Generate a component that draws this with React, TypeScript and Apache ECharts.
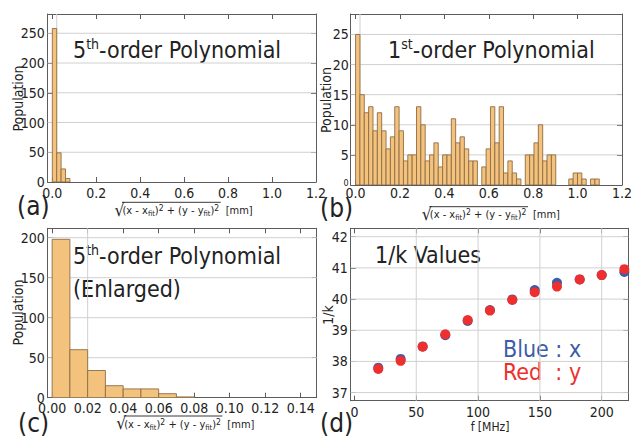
import React, { useEffect, useRef } from 'react';
import * as echarts from 'echarts';

// ---------- data ----------
const countsA = [258, 49, 22, 6];
const binA = 0.02;
const countsB = [25, 15, 12, 13, 9, 12, 9, 6, 8, 13, 9, 4, 5, 5, 13, 10, 4, 5, 7, 3, 5, 5, 11, 7, 8, 6, 4, 4, 0, 3, 6, 13, 7, 13, 2, 4, 2, 1, 0, 5, 5, 7, 10, 4, 5, 5, 0, 0, 0, 1, 2, 2, 1, 0, 1, 1];
const binB = 0.0196;
const countsC = [198, 60, 34, 15, 11, 11, 5, 1];
const binC = 0.01;
const freqs = [19.3, 37.4, 55.2, 73.5, 91.6, 109.6, 127.7, 145.8, 163.8, 182.2, 200.0, 218.3];
const blueX = [37.80, 38.08, 38.48, 38.84, 39.30, 39.65, 39.99, 40.29, 40.52, 40.63, 40.77, 40.87];
const redY = [37.76, 38.02, 38.47, 38.87, 39.33, 39.63, 39.97, 40.22, 40.40, 40.63, 40.77, 40.96];

const ticksHistX = [0, 0.2, 0.4, 0.6, 0.8, 1.0, 1.2];
const ticksAY = [0, 50, 100, 150, 200, 250];
const ticksBY = [0, 5, 10, 15, 20, 25];
const ticksCX = [0, 0.02, 0.04, 0.06, 0.08, 0.1, 0.12, 0.14];
const ticksCY = [0, 50, 100, 150, 200];
const ticksDX = [0, 50, 100, 150, 200];
const ticksDY = [37, 38, 39, 40, 41, 42];

const gridAX = [0.02];
const gridAY = [50, 100, 150, 200, 250];
const gridBX = [0.02];
const gridBY = [5, 10, 15, 20, 25];
const gridCX = [0.02];
const gridCY = [50, 100, 150, 200];
const gridDX = [50, 100, 150, 200];
const gridDY = [37, 38, 39, 40, 41, 42];

// ---------- style ----------
const FONT = 'Tahoma, "DejaVu Sans Condensed", "Liberation Sans", sans-serif';
const FRAME = '#5c5c5c';
const GRIDC = '#d0d0d0';
const TXT = '#222';
const BAR_FILL = '#f3c37e';
const BAR_EDGE = '#8f6c44';
const BLUE = '#3b5ca9';
const RED = '#ee2f2f';

const ranges = [
  { x: [-0.021, 1.2], y: [0, 282.4] },
  { x: [-0.022, 1.2], y: [0, 28.4] },
  { x: [-0.0025, 0.149], y: [0, 211.75] },
  { x: [-3, 221.5], y: [36.74, 42.27] },
];

function axisPair(dir: 'x' | 'y', gi: number, ticks: number[], fmt: any, margin: number, rich?: any) {
  const r = ranges[gi][dir];
  const common = {
    type: 'value',
    gridIndex: gi,
    min: r[0],
    max: r[1],
    axisLine: { show: true, onZero: false, lineStyle: { color: FRAME, width: 1 } },
    axisTick: { show: true, inside: true, length: 5, customValues: ticks, lineStyle: { color: FRAME } },
    splitLine: { show: false },
  };
  return [
    {
      ...common,
      position: dir === 'x' ? 'bottom' : 'left',
      axisLabel: { show: true, customValues: ticks, formatter: fmt, color: TXT, fontFamily: FONT, fontSize: 14, margin, rich },
    },
    {
      ...common,
      position: dir === 'x' ? 'top' : 'right',
      axisLabel: { show: false },
    },
  ];
}

function histSeries(gi: number, counts: number[], bw: number) {
  return {
    type: 'custom',
    xAxisIndex: gi * 2,
    yAxisIndex: gi * 2,
    z: 3,
    clip: true,
    encode: { x: [0, 1], y: 2 },
    data: counts.map((c, i) => [i * bw, (i + 1) * bw, c]),
    renderItem: (params: any, api: any) => {
      const c = api.value(2);
      if (!c) return null;
      const p0 = api.coord([api.value(0), c]);
      const p1 = api.coord([api.value(1), 0]);
      return {
        type: 'rect',
        shape: { x: p0[0], y: p0[1], width: p1[0] - p0[0], height: p1[1] - p0[1] },
        style: { fill: BAR_FILL, stroke: BAR_EDGE, lineWidth: 0.9 },
      };
    },
  };
}

function gridSeries(gi: number, xs: number[], ys: number[]) {
  const r = ranges[gi];
  const data = [...xs.map((v) => [v, r.y[0], 0]), ...ys.map((v) => [r.x[0], v, 1])];
  return {
    type: 'custom',
    xAxisIndex: gi * 2,
    yAxisIndex: gi * 2,
    z: 1,
    silent: true,
    encode: { x: 0, y: 1 },
    data,
    renderItem: (params: any, api: any) => {
      const cs = params.coordSys;
      const p = api.coord([api.value(0), api.value(1)]);
      const vertical = api.value(2) === 0;
      const shape = vertical
        ? { x1: p[0], y1: cs.y, x2: p[0], y2: cs.y + cs.height }
        : { x1: cs.x, y1: p[1], x2: cs.x + cs.width, y2: p[1] };
      return { type: 'line', shape, style: { stroke: GRIDC, lineWidth: 1 } };
    },
  };
}

function titleText(x: number, y: number, big: string, sup: string, rest: string) {
  return {
    type: 'text',
    x,
    y,
    style: {
      text: `{n|${big}}{s|${sup}}{n|${rest}}`,
      textVerticalAlign: 'middle',
      fill: TXT,
      rich: {
        n: { fontSize: 23, fontFamily: FONT, lineHeight: 26, fill: TXT },
        s: { fontSize: 14, fontFamily: FONT, lineHeight: 14, verticalAlign: 'top', fill: TXT },
      },
    },
  };
}

function plainText(x: number, y: number, text: string, size: number, color = TXT, align = 'left', rot = 0) {
  return {
    type: 'text',
    x,
    y,
    rotation: rot,
    style: { text, fontSize: size, fontFamily: FONT, fill: color, textAlign: align, textVerticalAlign: 'middle' },
  };
}

// measure the width of the radicand so the vinculum fits it
function measure(parts: [string, number][]) {
  const ctx = document.createElement('canvas').getContext('2d');
  if (!ctx) return 100;
  let w = 0;
  for (const [t, s] of parts) {
    ctx.font = `${s}px ${FONT}`;
    w += ctx.measureText(t).width;
  }
  return w;
}

function sqrtLabel(x0: number, yLine: number) {
  const base = 11;
  const sub = 7.5;
  const sup = 8.5;
  const w = measure([
    ['(x - x', base], ['fit', sub], [')', base], ['2', sup],
    [' + (y - y', base], ['fit', sub], [')', base], ['2', sup],
  ]);
  return [
    plainText(x0 - 0.5, yLine + 7.2, '\u221A', 17.5),
    { type: 'line', shape: { x1: x0 + 7, y1: yLine, x2: x0 + 9 + w, y2: yLine }, style: { stroke: TXT, lineWidth: 0.9 } },
    {
      type: 'text',
      x: x0 + 7.5,
      y: yLine + 8,
      style: {
        text: '(x - x{b|fit}){p|2} + (y - y{b|fit}){p|2}',
        fontSize: base,
        fontFamily: FONT,
        fill: TXT,
        lineHeight: 14,
        textVerticalAlign: 'middle',
        rich: {
          b: { fontSize: sub, fontFamily: FONT, lineHeight: 9, verticalAlign: 'bottom', fill: TXT },
          p: { fontSize: sup, fontFamily: FONT, lineHeight: 9, verticalAlign: 'top', fill: TXT },
        },
      },
    },
    plainText(x0 + 14 + w, yLine + 8, '[mm]', 11),
  ];
}

export default function App() {
  const ref = useRef<HTMLDivElement>(null);
  useEffect(() => {
    document.body.style.margin = '0';
    const chart = echarts.init(ref.current!, undefined, { renderer: 'svg' });
    const fmt1 = (v: number) => v.toFixed(1);
    const fmt2 = (v: number) => v.toFixed(2);
    const fmtInt = (v: number) => String(Math.round(v));
    const fmtB0 = (v: number) => (v === 0 ? '{s|0}' : String(v));
    const xAxis = [
      ...axisPair('x', 0, ticksHistX, fmt1, 4),
      ...axisPair('x', 1, ticksHistX, fmt1, 1),
      ...axisPair('x', 2, ticksCX, fmt2, 3),
      ...axisPair('x', 3, ticksDX, fmtInt, 4),
    ];
    const yAxis = [
      ...axisPair('y', 0, ticksAY, fmtInt, 3),
      ...axisPair('y', 1, ticksBY, fmtB0, 2, { s: { fontSize: 9, fontFamily: FONT, color: TXT, padding: [0, 0, 4, 0] } }),
      ...axisPair('y', 2, ticksCY, fmtInt, 3),
      ...axisPair('y', 3, ticksDY, fmtInt, 3),
    ];
    const option: any = {
      animation: false,
      backgroundColor: '#fff',
      grid: [
        { left: 47.7, top: 14, width: 268.3, height: 168 },
        { left: 350.7, top: 14, width: 277.3, height: 171 },
        { left: 47.7, top: 228.3, width: 269, height: 169.4 },
        { left: 350.7, top: 228.3, width: 277.6, height: 172.4 },
      ],
      xAxis,
      yAxis,
      series: [
        gridSeries(0, gridAX, gridAY),
        gridSeries(1, gridBX, gridBY),
        gridSeries(2, gridCX, gridCY),
        gridSeries(3, gridDX, gridDY),
        histSeries(0, countsA, binA),
        histSeries(1, countsB, binB),
        histSeries(2, countsC, binC),
        {
          type: 'scatter',
          name: 'Blue : x',
          xAxisIndex: 6,
          yAxisIndex: 6,
          z: 3,
          symbolSize: 10,
          itemStyle: { color: BLUE, opacity: 1 },
          data: freqs.map((f, i) => [f, blueX[i]]),
        },
        {
          type: 'scatter',
          name: 'Red : y',
          xAxisIndex: 6,
          yAxisIndex: 6,
          z: 4,
          symbolSize: 10,
          itemStyle: { color: RED, opacity: 1 },
          data: freqs.map((f, i) => [f, redY[i]]),
        },
      ],
      graphic: [
        titleText(73, 49.5, '5', 'th', '-order Polynomial'),
        titleText(388, 49.5, '1', 'st', '-order Polynomial'),
        titleText(73, 256, '5', 'th', '-order Polynomial'),
        plainText(73, 288.5, '(Enlarged)', 23),
        plainText(375, 255, '1/k Values', 23),
        plainText(503, 349, 'Blue : x', 23, BLUE),
        plainText(503, 371.5, 'Red  : y', 23, RED),
        plainText(17, 206, '(a)', 26),
        plainText(320, 207.5, '(b)', 26),
        plainText(18, 423, '(c)', 26),
        plainText(320, 422.5, '(d)', 26),
        plainText(17.5, 98.5, 'Population', 14, TXT, 'center', Math.PI / 2),
        plainText(326, 100, 'Population', 14, TXT, 'center', Math.PI / 2),
        plainText(17.5, 312.5, 'Population', 14, TXT, 'center', Math.PI / 2),
        plainText(328, 315, '1/k', 14, TXT, 'center', Math.PI / 2),
        plainText(490, 426.7, 'f [MHz]', 12, TXT, 'center'),
        ...sqrtLabel(115, 202.3),
        ...sqrtLabel(422.3, 206.7),
        ...sqrtLabel(116.7, 416),
      ],
    };
    chart.setOption(option);
    return () => chart.dispose();
  }, []);
  return <div ref={ref} style={{ position: 'fixed', left: 0, top: 0, width: 635, height: 436, background: '#fff' }} />;
}
